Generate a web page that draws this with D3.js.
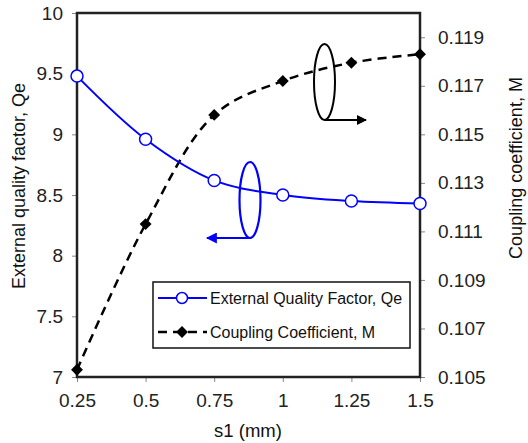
<!DOCTYPE html>
<html><head><meta charset="utf-8">
<script src="https://cdn.jsdelivr.net/npm/d3@7"></script>
<style>body{margin:0;background:#fff}svg{display:block}text{font-family:"Liberation Sans",Arial,sans-serif}</style>
</head><body>
<svg id="c" width="528" height="443"></svg>
<script>
const sValues = [0.25, 0.5, 0.75, 1.0, 1.25, 1.5];
const qeValues = [9.48, 8.96, 8.62, 8.50, 8.45, 8.43];
const mValues = [0.1053, 0.1113, 0.1158, 0.1172, 0.11795, 0.1183];
const xTicks = [0.25, 0.5, 0.75, 1, 1.25, 1.5];
const leftTicks = [7, 7.5, 8, 8.5, 9, 9.5, 10];
const rightTicks = [0.105, 0.107, 0.109, 0.111, 0.113, 0.115, 0.117, 0.119];
const seriesNames = ["External Quality Factor, Qe", "Coupling Coefficient, M"];

const svg = d3.select("#c");
const L = 77, R = 420, T = 13, B = 377;
const x = d3.scaleLinear().domain([0.25, 1.5]).range([L, R]);
const yL = d3.scaleLinear().domain([7, 10]).range([B, T]);
const yR = d3.scaleLinear().domain([0.105, 0.120]).range([B, T]);

// axes
const gx = svg.append("g").attr("transform", `translate(0,${B})`)
  .call(d3.axisBottom(x).tickValues(xTicks).tickFormat(d => String(d)).tickSize(5).tickPadding(12));
const gl = svg.append("g").attr("transform", `translate(${L},0)`)
  .call(d3.axisLeft(yL).tickValues(leftTicks).tickFormat(d => String(d)).tickSize(5).tickPadding(9));
const gr = svg.append("g").attr("transform", `translate(${R},0)`)
  .call(d3.axisRight(yR).tickValues(rightTicks).tickFormat(d3.format(".3f")).tickSize(5).tickPadding(13));
[gx, gl, gr].forEach(g => {
  g.select(".domain").remove();
  g.selectAll(".tick line").attr("stroke", "#888").attr("stroke-width", 1);
  g.selectAll(".tick text").attr("font-size", 19).attr("fill", "#222");
});

// frame
svg.append("rect").attr("x", L).attr("y", T).attr("width", R - L).attr("height", B - T)
  .attr("fill", "none").attr("stroke", "#222").attr("stroke-width", 2.5);

// lines
const curve = d3.curveCatmullRom.alpha(0.5);
const qeLine = d3.line().x((d, i) => x(sValues[i])).y(d => yL(d)).curve(curve);
const mLine = d3.line().x((d, i) => x(sValues[i])).y(d => yR(d)).curve(curve);

svg.append("path").attr("d", mLine(mValues)).attr("fill", "none")
  .attr("stroke", "#000").attr("stroke-width", 2.5).attr("stroke-dasharray", "9,6");
svg.append("path").attr("d", qeLine(qeValues)).attr("fill", "none")
  .attr("stroke", "#0000ff").attr("stroke-width", 2);

const diamond = d3.symbol().type(d3.symbolDiamond2).size(90);
svg.selectAll(".md").data(mValues).enter().append("path")
  .attr("transform", (d, i) => `translate(${x(sValues[i])},${yR(d)})`)
  .attr("d", diamond).attr("fill", "#000");
svg.selectAll(".qc").data(qeValues).enter().append("circle")
  .attr("cx", (d, i) => x(sValues[i])).attr("cy", d => yL(d)).attr("r", 6)
  .attr("fill", "#fff").attr("stroke", "#0000ff").attr("stroke-width", 1.5);

// annotations
svg.append("defs").html(`
<marker id="ab" viewBox="0 0 10 10" refX="9" refY="5" markerWidth="5" markerHeight="5" orient="auto"><path d="M0,0L10,5L0,10z" fill="#0000ff"/></marker>
<marker id="ak" viewBox="0 0 10 10" refX="9" refY="5" markerWidth="5" markerHeight="5" orient="auto"><path d="M0,0L10,5L0,10z" fill="#000"/></marker>`);
svg.append("ellipse").attr("cx", 250).attr("cy", 200).attr("rx", 10.5).attr("ry", 38)
  .attr("fill", "none").attr("stroke", "#0000ff").attr("stroke-width", 2.2);
svg.append("line").attr("x1", 251).attr("y1", 238).attr("x2", 207).attr("y2", 238)
  .attr("stroke", "#0000ff").attr("stroke-width", 2.2).attr("marker-end", "url(#ab)");
svg.append("ellipse").attr("cx", 324.5).attr("cy", 82).attr("rx", 10.5).attr("ry", 38)
  .attr("fill", "none").attr("stroke", "#000").attr("stroke-width", 2);
svg.append("line").attr("x1", 325).attr("y1", 120).attr("x2", 366).attr("y2", 120)
  .attr("stroke", "#000").attr("stroke-width", 2).attr("marker-end", "url(#ak)");

// legend
const lg = svg.append("g");
lg.append("rect").attr("x", 153).attr("y", 282).attr("width", 257).attr("height", 66)
  .attr("fill", "#fff").attr("stroke", "#111").attr("stroke-width", 1.5);
lg.append("line").attr("x1", 158).attr("x2", 207).attr("y1", 298).attr("y2", 298)
  .attr("stroke", "#0000ff").attr("stroke-width", 2);
lg.append("circle").attr("cx", 182).attr("cy", 298).attr("r", 5.5)
  .attr("fill", "#fff").attr("stroke", "#0000ff").attr("stroke-width", 1.5);
lg.append("line").attr("x1", 158).attr("x2", 207).attr("y1", 332).attr("y2", 332)
  .attr("stroke", "#000").attr("stroke-width", 2.5).attr("stroke-dasharray", "9,6");
lg.append("path").attr("transform", "translate(182,332)").attr("d", diamond).attr("fill", "#000");
lg.selectAll(".lt").data(seriesNames).enter().append("text")
  .attr("x", 210).attr("y", (d, i) => 298 + i * 34).attr("dy", "0.35em")
  .attr("font-size", 16).attr("fill", "#111").text(d => d);

// axis titles
svg.append("text").attr("x", 248).attr("y", 437).attr("text-anchor", "middle")
  .attr("font-size", 18.5).attr("fill", "#111").text("s1 (mm)");
svg.append("text").attr("transform", "translate(25,186) rotate(-90)").attr("text-anchor", "middle")
  .attr("font-size", 18).attr("fill", "#111").text("External quality factor, Qe");
svg.append("text").attr("transform", "translate(522,168) rotate(-90)").attr("text-anchor", "middle")
  .attr("font-size", 18).attr("fill", "#111").text("Coupling coefficient, M");
</script>
</body></html>
